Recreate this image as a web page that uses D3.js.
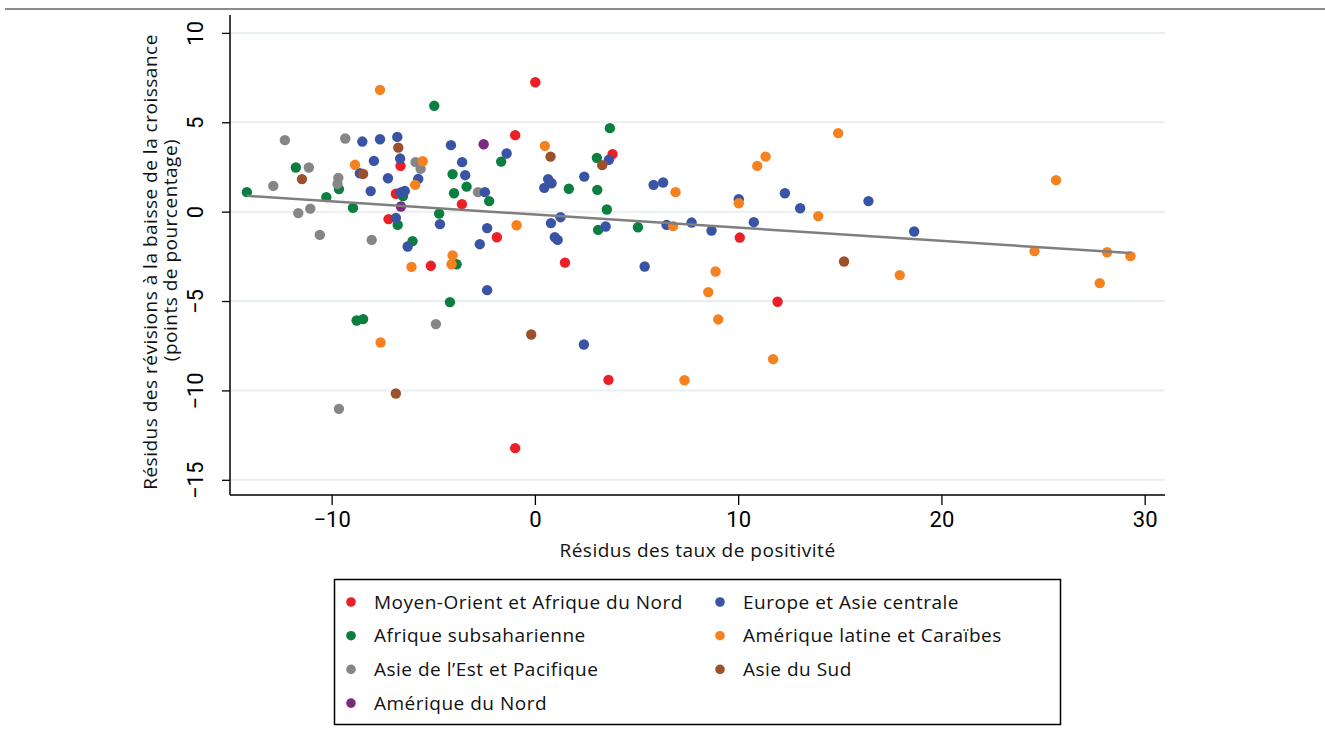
<!DOCTYPE html>
<html>
<head>
<meta charset="utf-8">
<script src="https://cdn.jsdelivr.net/npm/d3@7"></script>
<style>
  html, body { margin: 0; padding: 0; background: #fff; }
  svg { display: block; font-family: "Open Sans", "Noto Sans", sans-serif; }
</style>
</head>
<body>
<svg id="chart" width="1325" height="742"></svg>
<script>
// ---------- Data ----------
const regionNames = [
  "Moyen-Orient et Afrique du Nord",
  "Afrique subsaharienne",
  "Asie de l\u2019Est et Pacifique",
  "Amérique du Nord",
  "Europe et Asie centrale",
  "Amérique latine et Caraïbes",
  "Asie du Sud"
];
const regionColors = ["#ec1f27", "#0b7f3f", "#868686", "#7b2a82", "#3a54a5", "#f5821f", "#9c512a"];

// [x = résidus des taux de positivité, y = résidus des révisions]
const mena = [[-6.61,2.56],[-6.84,1.0],[-7.2,-0.42],[-5.12,-3.03],[-3.59,0.42],[-1.87,-1.43],[-0.97,4.28],
  [0.02,7.24],[3.82,3.22],[1.48,-2.85],[3.62,-9.41],[-0.97,-13.23],[10.08,-1.45],[11.94,-5.04]];
const ssa = [[-4.95,5.92],[-11.76,2.47],[-9.64,1.26],[-14.17,1.09],[-6.49,0.87],[-10.26,0.81],[-8.95,0.21],
  [-4.71,-0.11],[-6.75,-0.74],[-6.02,-1.65],[-3.85,-2.94],[-4.18,-5.06],[-8.77,-6.09],[-8.45,-6.01],
  [3.69,4.67],[-1.66,2.80],[3.05,3.01],[-4.05,2.10],[-3.36,1.40],[-3.98,1.03],[-2.25,0.59],[1.67,1.28],
  [3.07,1.22],[3.54,0.12],[3.11,-1.02],[5.07,-0.87]];
const eap = [[-12.3,4.0],[-9.33,4.09],[-11.12,2.47],[-5.87,2.77],[-5.62,2.39],[-9.67,1.89],[-9.71,1.55],
  [-12.87,1.44],[-11.64,-0.08],[-11.05,0.17],[-10.58,-1.30],[-8.03,-1.58],[-4.87,-6.29],[-9.64,-11.03],
  [-2.80,1.09]];
const nam = [[-6.59,0.29],[-2.52,3.77]];
const eca = [[-8.49,3.92],[-7.62,4.05],[-6.77,4.18],[-7.92,2.84],[-6.63,2.97],[-8.61,2.15],[-7.23,1.87],
  [-5.74,1.83],[-8.08,1.15],[-6.6,1.07],[-6.4,1.16],[-6.84,-0.35],[-4.67,-0.70],[-6.26,-1.95],[-4.13,3.72],
  [-1.39,3.25],[-3.58,2.77],[-3.43,2.04],[-2.46,1.09],[3.64,2.90],[2.43,1.96],[0.65,1.82],[0.82,1.59],
  [0.46,1.33],[0.79,-0.64],[1.26,-0.31],[-2.35,-0.92],[3.48,-0.83],[-2.71,-1.82],[0.98,-1.43],[1.12,-1.58],
  [5.40,-3.07],[-2.35,-4.39],[2.41,-7.43],[5.84,1.50],[6.31,1.63],[12.30,1.03],[10.03,0.70],[16.41,0.59],
  [13.05,0.19],[6.48,-0.74],[7.71,-0.61],[8.69,-1.06],[10.77,-0.59],[18.66,-1.11]];
const lac = [[-7.62,6.81],[-8.85,2.62],[-5.52,2.82],[-5.89,1.50],[-6.07,-3.09],[-4.05,-2.45],[-4.1,-2.94],
  [-7.59,-7.32],[-0.90,-0.76],[0.49,3.68],[14.92,4.39],[11.35,3.08],[10.94,2.56],[6.92,1.09],[10.03,0.47],
  [13.94,-0.25],[6.80,-0.81],[8.89,-3.35],[17.95,-3.55],[8.53,-4.50],[9.02,-6.03],[11.72,-8.25],[7.36,-9.43],
  [25.64,1.76],[24.58,-2.21],[28.15,-2.27],[29.30,-2.49],[27.79,-4.0]];
const sar = [[-6.72,3.58],[-11.46,1.82],[-8.45,2.11],[0.77,3.08],[3.31,2.60],[-0.18,-6.87],[-6.84,-10.17],
  [15.21,-2.79]];

const regionData = [mena, ssa, eap, nam, eca, lac, sar];

// fitted line (intercept, slope)
const fitIntercept = -0.16;
const fitSlope = -0.0736;

const xTicks = [-10, 0, 10, 20, 30];
const yTicks = [10, 5, 0, -5, -10, -15];
const xTitle = "Résidus des taux de positivité";
const yTitle = ["Résidus des révisions à la baisse de la croissance", "(points de pourcentage)"];

// ---------- Layout ----------
const svg = d3.select("#chart");
const plot = { left: 230, right: 1165, top: 15, bottom: 495 };

const x = d3.scaleLinear().domain([-15, 31]).range([plot.left, plot.right]);
const y = d3.scaleLinear().domain([-15.85, 11]).range([plot.bottom, plot.top]);

const fmt = d => (d < 0 ? "\u2212" + Math.abs(d) : String(d));

// top rule
svg.append("line").attr("x1", 5).attr("x2", 1325).attr("y1", 9).attr("y2", 9)
  .attr("stroke", "#8c8c8c").attr("stroke-width", 2);

// gridlines
svg.append("g").selectAll("line").data(yTicks).join("line")
  .attr("x1", plot.left).attr("x2", plot.right)
  .attr("y1", d => y(d)).attr("y2", d => y(d))
  .attr("stroke", "#e7eff1").attr("stroke-width", 2);

// axes
const xAxis = svg.append("g").attr("transform", `translate(0,${plot.bottom})`)
  .call(d3.axisBottom(x).tickValues(xTicks).tickSize(10).tickPadding(6).tickFormat(fmt));
xAxis.select(".domain").attr("stroke", "#000").attr("stroke-width", 1.5)
  .attr("d", `M${plot.left},0H${plot.right}`);
xAxis.selectAll(".tick line").attr("stroke", "#000").attr("stroke-width", 1.3);
xAxis.selectAll(".tick text").attr("font-size", 22).attr("fill", "#000")
  .attr("font-family", "Roboto, sans-serif");

const yAxis = svg.append("g").attr("transform", `translate(${plot.left},0)`)
  .call(d3.axisLeft(y).tickValues(yTicks).tickSize(8).tickFormat(fmt));
yAxis.select(".domain").attr("stroke", "#000").attr("stroke-width", 1.5)
  .attr("d", `M0,${plot.top}V${plot.bottom}`);
yAxis.selectAll(".tick line").attr("stroke", "#000").attr("stroke-width", 1.3);
yAxis.selectAll(".tick text")
  .attr("x", null).attr("dy", null)
  .attr("transform", "translate(-27,0) rotate(-90)")
  .attr("text-anchor", "middle")
  .attr("font-size", 22).attr("fill", "#000")
  .attr("font-family", "Roboto, sans-serif");

// axis titles
svg.append("text").attr("x", (plot.left + plot.right) / 2).attr("y", 557)
  .attr("text-anchor", "middle").attr("font-size", 19).attr("letter-spacing", 0.5)
  .attr("fill", "#111").text(xTitle);

svg.append("text").attr("transform", "translate(157,262) rotate(-90)")
  .attr("text-anchor", "middle").attr("font-size", 19).attr("letter-spacing", 0.5)
  .attr("fill", "#111").text(yTitle[0]);
svg.append("text").attr("transform", "translate(177,250) rotate(-90)")
  .attr("text-anchor", "middle").attr("font-size", 19).attr("letter-spacing", 0.5)
  .attr("fill", "#111").text(yTitle[1]);

// points
const pts = svg.append("g");
regionData.forEach((arr, i) => {
  pts.append("g").selectAll("circle").data(arr).join("circle")
    .attr("cx", d => x(d[0])).attr("cy", d => y(d[1])).attr("r", 5.2)
    .attr("fill", regionColors[i]);
});

// fitted line
const allX = regionData.flat().map(d => d[0]);
const [xmin, xmax] = d3.extent(allX);
svg.append("line")
  .attr("x1", x(xmin)).attr("y1", y(fitIntercept + fitSlope * xmin))
  .attr("x2", x(xmax)).attr("y2", y(fitIntercept + fitSlope * xmax))
  .attr("stroke", "#7f7f7f").attr("stroke-width", 2.5);

// legend
const legend = svg.append("g");
legend.append("rect").attr("x", 334.5).attr("y", 579.5).attr("width", 726).attr("height", 145)
  .attr("fill", "none").attr("stroke", "#000").attr("stroke-width", 1.5);
const legendOrder = [0, 4, 1, 5, 2, 6, 3];
legendOrder.forEach((ri, k) => {
  const col = k % 2, row = Math.floor(k / 2);
  const lx = col === 0 ? 351 : 720;
  const ly = 602 + row * 33.7;
  legend.append("circle").attr("cx", lx).attr("cy", ly).attr("r", 4.8).attr("fill", regionColors[ri]);
  legend.append("text").attr("x", lx + 23).attr("y", ly).attr("dy", "0.35em")
    .attr("font-size", 19).attr("letter-spacing", 0.5).attr("fill", "#111").text(regionNames[ri]);
});
</script>
</body>
</html>
